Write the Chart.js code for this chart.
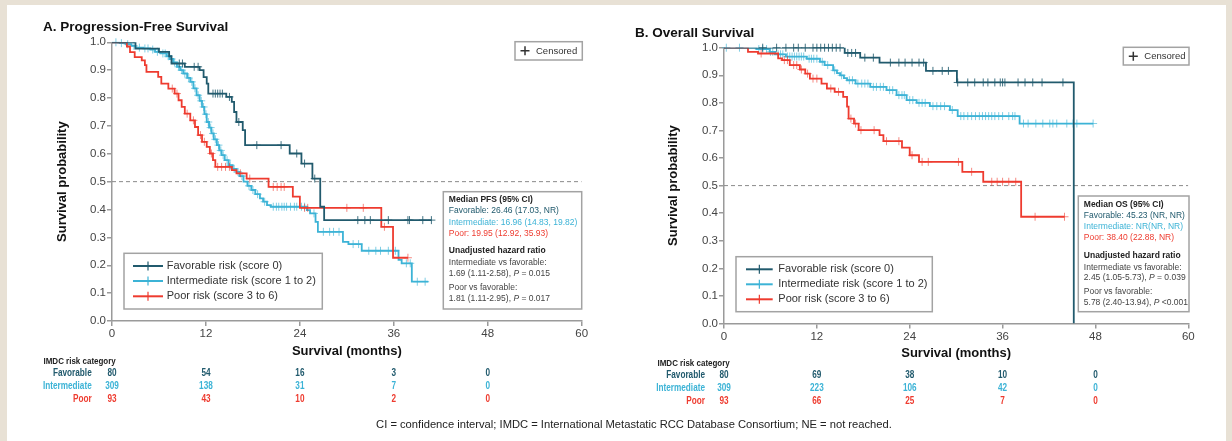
<!DOCTYPE html>
<html>
<head>
<meta charset="utf-8">
<script src="https://cdn.jsdelivr.net/npm/chart.js@4.4.1/dist/chart.umd.min.js"></script>
<style>
  html, body { margin: 0; padding: 0; }
  body { width: 1232px; height: 441px; background: #e8e1d5; position: relative; overflow: hidden;
         font-family: "Liberation Sans", Arial, sans-serif; }
  #panel { position: absolute; left: 7px; top: 5px; width: 1219px; height: 436px; background: #fff; }
  canvas { position: absolute; top: 0; }
  #cA { left: 0; }
  #cB { left: 616px; }
  #foot { position: absolute; left: 0; width: 1268px; top: 418px; text-align: center; font-size: 11.2px; color: #222; white-space: nowrap; }
</style>
</head>
<body>
<div id="panel"></div>
<canvas id="cA" width="616" height="441"></canvas>
<canvas id="cB" width="616" height="441"></canvas>
<div id="foot">CI = confidence interval; IMDC = International Metastatic RCC Database Consortium; NE = not reached.</div>
<script>
const FONT = '"Liberation Sans", Arial, Helvetica, sans-serif';

// axes
const xTicks = [0, 12, 24, 36, 48, 60];
const yTicks = [0.0, 0.1, 0.2, 0.3, 0.4, 0.5, 0.6, 0.7, 0.8, 0.9, 1.0];
const riskTimes = [0, 12, 24, 36, 48];
const groups = ["Favorable", "Intermediate", "Poor"];
const legendLabels = ["Favorable risk (score 0)", "Intermediate risk (score 1 to 2)", "Poor risk (score 3 to 6)"];
const colors = ["#215a6d", "#3cb3d6", "#ee3b2f"];
const censColors = ["rgba(33,90,109,0.85)", "rgba(60,179,214,0.65)", "rgba(238,59,47,0.6)"];

// A. progression-free survival (step times, survival after step, censor times)
const pfsFavT = [0, 3.0, 6.0, 7.3, 7.6, 9.3, 11.2, 11.7, 12.1, 12.3, 14.6, 15.3, 15.6, 15.9, 16.7, 17.0, 22.7, 24.2, 25.6, 26.6, 27.1, 40.8];
const pfsFavS = [1.0, 0.977, 0.966, 0.95, 0.924, 0.912, 0.9, 0.875, 0.852, 0.816, 0.804, 0.786, 0.75, 0.714, 0.685, 0.631, 0.601, 0.565, 0.511, 0.41, 0.362, 0.362];
const pfsFavCens = [8.6, 9.0, 10.5, 11.0, 12.9, 13.2, 13.5, 13.8, 14.1, 15.0, 16.2, 18.5, 21.6, 23.6, 24.6, 25.9, 31.4, 32.3, 33.0, 35.3, 37.8, 38.0, 39.7, 40.8];

const pfsIntT = [0, 1.0, 1.8, 2.5, 3.0, 4.0, 4.9, 5.5, 6.2, 7.0, 7.4, 7.8, 8.3, 8.7, 9.1, 9.6, 10.0, 10.4, 10.8, 11.2, 11.5, 11.8, 12.1, 12.4, 12.7, 13.0, 13.4, 13.7, 14.0, 14.4, 14.9, 15.4, 15.9, 16.3, 16.8, 17.3, 17.8, 18.3, 18.9, 19.3, 19.8, 20.3, 24.9, 25.3, 26.0, 26.3, 29.5, 30.2, 31.9, 36.6, 37.0, 38.3, 40.4];
const pfsIntS = [1.0, 0.997, 0.993, 0.987, 0.981, 0.978, 0.974, 0.966, 0.96, 0.95, 0.94, 0.928, 0.912, 0.9, 0.888, 0.872, 0.858, 0.835, 0.81, 0.79, 0.768, 0.742, 0.714, 0.694, 0.673, 0.652, 0.631, 0.612, 0.595, 0.577, 0.559, 0.546, 0.535, 0.52, 0.5, 0.485, 0.47, 0.455, 0.44, 0.428, 0.416, 0.41, 0.398, 0.386, 0.356, 0.32, 0.284, 0.276, 0.252, 0.219, 0.207, 0.141, 0.141];
const pfsIntCens = [0.5, 1.2, 2.0, 2.8, 3.5, 4.2, 4.6, 5.2, 5.8, 6.5, 6.8, 7.2, 7.6, 8.0, 8.5, 8.9, 9.3, 9.8, 10.2, 10.6, 11.0, 11.4, 11.7, 12.0, 12.3, 12.6, 12.9, 13.2, 13.6, 13.9, 14.2, 14.7, 15.1, 15.6, 16.1, 16.6, 17.5, 18.0, 18.6, 19.5, 20.6, 21.0, 21.3, 21.7, 22.0, 22.3, 22.8, 23.3, 23.6, 24.2, 24.6, 25.8, 27.0, 27.8, 28.3, 29.0, 30.8, 31.5, 32.8, 33.7, 34.3, 35.3, 36.2, 37.6, 38.1, 39.0, 40.0];

const pfsPoorT = [0, 1.9, 2.3, 2.9, 3.8, 4.2, 4.4, 5.9, 6.3, 7.2, 8.0, 8.5, 8.9, 9.3, 10.0, 10.6, 11.0, 11.5, 12.1, 12.5, 12.9, 13.2, 15.3, 15.9, 17.2, 20.0, 23.1, 24.0, 34.4, 35.9, 37.8];
const pfsPoorS = [1.0, 0.985, 0.965, 0.947, 0.935, 0.918, 0.894, 0.876, 0.852, 0.834, 0.816, 0.792, 0.768, 0.744, 0.72, 0.696, 0.667, 0.643, 0.625, 0.601, 0.577, 0.553, 0.541, 0.53, 0.511, 0.481, 0.446, 0.406, 0.338, 0.227, 0.227];
const pfsPoorCens = [7.7, 8.3, 9.6, 10.4, 11.3, 11.8, 12.7, 13.5, 14.0, 14.5, 15.0, 16.4, 17.6, 20.6, 21.1, 21.6, 22.0, 24.6, 25.0, 30.0, 32.1, 34.8, 37.8];

// B. overall survival
const osFavT = [0, 15.6, 17.6, 20.1, 26.1, 30.1, 45.2];
const osFavS = [1.0, 0.981, 0.964, 0.946, 0.916, 0.874, 0.0];
const osFavCens = [5.0, 6.8, 8.0, 9.0, 9.6, 10.5, 11.5, 12.0, 12.5, 13.0, 13.5, 14.0, 14.5, 15.0, 16.0, 16.5, 17.0, 18.2, 19.3, 21.5, 22.6, 23.4, 24.3, 25.2, 25.8, 27.0, 28.2, 29.0, 30.2, 31.5, 32.4, 33.5, 34.1, 35.0, 35.7, 36.0, 36.3, 38.0, 38.9, 39.9, 41.1, 43.8];

const osIntT = [0, 4.2, 5.9, 6.6, 8.0, 10.7, 12.4, 13.0, 14.1, 14.6, 15.0, 15.5, 15.9, 17.0, 18.9, 21.0, 22.3, 23.6, 24.9, 26.6, 29.2, 30.2, 38.2, 47.7];
const osIntS = [1.0, 0.995, 0.985, 0.976, 0.968, 0.96, 0.949, 0.937, 0.918, 0.908, 0.9, 0.89, 0.882, 0.87, 0.858, 0.846, 0.828, 0.81, 0.8, 0.788, 0.774, 0.752, 0.725, 0.725];
const osIntCens = [0.3, 2.0, 4.5, 5.0, 5.5, 6.0, 6.3, 7.0, 7.3, 7.6, 8.2, 8.5, 8.8, 9.1, 9.4, 9.7, 10.0, 10.3, 11.0, 11.3, 11.6, 12.0, 12.7, 13.4, 14.3, 15.2, 16.2, 16.6, 17.3, 17.8, 18.2, 18.6, 19.3, 19.7, 20.2, 20.6, 21.4, 21.8, 22.6, 23.0, 23.3, 24.0, 24.4, 25.2, 25.6, 26.0, 27.0, 27.5, 28.0, 28.5, 29.5, 30.6, 31.0, 31.5, 32.0, 32.5, 33.0, 33.4, 33.8, 34.2, 34.6, 35.0, 35.5, 36.0, 36.8, 37.3, 37.6, 38.7, 39.3, 40.3, 41.2, 42.1, 42.5, 43.0, 44.3, 45.1, 45.6, 47.7];

const osPoorT = [0, 3.1, 4.4, 7.0, 7.5, 8.5, 9.8, 10.5, 11.1, 12.6, 13.3, 14.3, 15.4, 15.9, 16.1, 16.8, 17.4, 20.1, 20.6, 23.0, 24.0, 25.2, 30.8, 33.5, 38.4, 44.0];
const osPoorS = [1.0, 0.985, 0.979, 0.961, 0.955, 0.937, 0.921, 0.906, 0.888, 0.87, 0.852, 0.84, 0.822, 0.786, 0.743, 0.725, 0.701, 0.683, 0.661, 0.638, 0.61, 0.586, 0.55, 0.514, 0.387, 0.387];
const osPoorCens = [4.8, 7.8, 8.2, 9.0, 9.4, 10.0, 10.8, 11.5, 12.0, 13.8, 14.8, 16.4, 17.0, 17.7, 19.4, 21.0, 22.6, 24.3, 25.6, 26.4, 30.3, 32.0, 34.6, 35.3, 36.0, 36.8, 37.7, 40.2, 44.0];

// numbers at risk
const pfsRiskFav = [80, 54, 16, 3, 0];
const pfsRiskInt = [309, 138, 31, 7, 0];
const pfsRiskPoor = [93, 43, 10, 2, 0];
const osRiskFav = [80, 69, 38, 10, 0];
const osRiskInt = [309, 223, 106, 42, 0];
const osRiskPoor = [93, 66, 25, 7, 0];

// text boxes
const pfsMedian = ["Favorable: 26.46 (17.03, NR)", "Intermediate: 16.96 (14.83, 19.82)", "Poor: 19.95 (12.92, 35.93)"];
const pfsHR = ["Intermediate vs favorable:", "1.69 (1.11-2.58), *P* = 0.015", "Poor vs favorable:", "1.81 (1.11-2.95), *P* = 0.017"];
const osMedian = ["Favorable: 45.23 (NR, NR)", "Intermediate: NR(NR, NR)", "Poor: 38.40 (22.88, NR)"];
const osHR = ["Intermediate vs favorable:", "2.45 (1.05-5.73), *P* = 0.039", "Poor vs favorable:", "5.78 (2.40-13.94), *P* <0.001"];

function stepAt(T, S, t) {
  let v = S[0];
  for (let i = 0; i < T.length; i++) if (T[i] <= t) v = S[i];
  return v;
}

function txt(ctx, s, x, y, font, color, align) {
  ctx.font = font;
  ctx.fillStyle = color;
  ctx.textAlign = align || "left";
  ctx.textBaseline = "middle";
  ctx.fillText(s, x, y);
}

function rich(ctx, s, x, y, size, color, bold) {
  let cx = x;
  s.split("*").forEach((p, i) => {
    ctx.font = (i % 2 ? "italic " : "") + (bold ? "bold " : "") + size + "px " + FONT;
    ctx.fillStyle = color;
    ctx.textAlign = "left";
    ctx.textBaseline = "middle";
    ctx.fillText(p, cx, y);
    cx += ctx.measureText(p).width;
  });
}

function narrow(ctx, s, x, y, size, color, align, sx) {
  ctx.save();
  ctx.translate(x, y);
  ctx.scale(sx, 1);
  txt(ctx, s, 0, 0, "bold " + size + "px " + FONT, color, align);
  ctx.restore();
}

function box(ctx, b) {
  ctx.save();
  ctx.strokeStyle = "#a3a3a3";
  ctx.lineWidth = 1.5;
  ctx.strokeRect(b[0], b[1], b[2], b[3]);
  ctx.restore();
}

function plus(ctx, x, y, h, w, color, lw) {
  ctx.save();
  ctx.strokeStyle = color;
  ctx.lineWidth = lw;
  ctx.beginPath();
  ctx.moveTo(x - w, y); ctx.lineTo(x + w, y);
  ctx.moveTo(x, y - h); ctx.lineTo(x, y + h);
  ctx.stroke();
  ctx.restore();
}

function extras(P) {
  return {
    id: "kmExtras",
    afterDraw(chart) {
      const ctx = chart.ctx;
      const a = chart.chartArea;
      const xs = chart.scales.x;
      txt(ctx, P.title, P.titleX, P.titleY, "bold 13.5px " + FONT, "#111");

      ctx.save();
      ctx.translate(P.yTitleX, (a.top + a.bottom) / 2);
      ctx.rotate(-Math.PI / 2);
      txt(ctx, "Survival probability", 0, 0, "bold 13px " + FONT, "#111", "center");
      ctx.restore();
      txt(ctx, "Survival (months)", (a.left + a.right) / 2, P.xTitleY, "bold 13px " + FONT, "#111", "center");

      // censored key
      const c = P.censBox;
      box(ctx, c);
      plus(ctx, c[0] + 10, c[1] + c[3] / 2, 4.5, 4.5, "#333", 1.5);
      txt(ctx, "Censored", c[0] + 21, c[1] + c[3] / 2 + 0.5, "9.5px " + FONT, "#333");

      // legend
      const l = P.legBox;
      box(ctx, l);
      legendLabels.forEach((s, i) => {
        const y = P.legRows[i];
        ctx.save();
        ctx.strokeStyle = colors[i];
        ctx.lineWidth = 2;
        ctx.beginPath();
        ctx.moveTo(P.legX0, y); ctx.lineTo(P.legX1, y);
        ctx.stroke();
        ctx.restore();
        plus(ctx, (P.legX0 + P.legX1) / 2, y, 4.5, 0, colors[i], 1.2);
        txt(ctx, s, P.legTextX, y, "11px " + FONT, "#333");
      });

      // median / hazard ratio box
      box(ctx, P.medBox);
      const ys = P.medRows;
      const tx = P.medBox[0] + 5.5;
      rich(ctx, P.medHead, tx, ys[0], 8.5, "#222", true);
      P.median.forEach((s, i) => rich(ctx, s, tx, ys[1 + i], 8.5, colors[i]));
      rich(ctx, "Unadjusted hazard ratio", tx, ys[4], 8.5, "#222", true);
      P.hr.forEach((s, i) => rich(ctx, s, tx, ys[5 + i], 8.5, "#444"));

      // numbers at risk
      narrow(ctx, "IMDC risk category", P.riskHeadX, P.riskHeadY, 9.5, "#222", "left", 0.84);
      P.risk.forEach((row, i) => {
        const y = P.riskRows[i];
        narrow(ctx, groups[i], P.riskLabelX, y, 10, colors[i], "right", 0.82);
        row.forEach((n, j) => {
          narrow(ctx, String(n), xs.getPixelForValue(riskTimes[j]), y, 10, colors[i], "center", 0.82);
        });
      });
    }
  };
}

function buildChart(id, P) {
  const ds = [];
  P.curves.forEach((c, k) => {
    ds.push({
      type: "line",
      data: c.T.map((t, i) => ({ x: t, y: c.S[i] })),
      stepped: true,
      borderColor: colors[c.g],
      borderWidth: 1.8,
      pointRadius: 0,
      fill: false
    });
    ds.push({
      type: "scatter",
      data: c.C.map(t => ({ x: t, y: stepAt(c.T, c.S, t) })),
      pointStyle: "cross",
      pointRadius: 4,
      borderColor: censColors[c.g],
      borderWidth: 1,
      clip: false
    });
  });
  ds.push({
    type: "line",
    data: [{ x: xTicks[0], y: 0.5 }, { x: xTicks[xTicks.length - 1], y: 0.5 }],
    borderColor: "#8a8a8a",
    borderDash: [4, 3],
    borderWidth: 1,
    pointRadius: 0
  });

  const axisGrid = { display: true, drawOnChartArea: false, drawTicks: true, tickLength: 5, color: "#9a9a9a", lineWidth: 1.5 };
  const axisBorder = { display: true, color: "#9a9a9a", width: 1.5 };
  const tickFont = { size: 11.5, family: FONT };

  return new Chart(document.getElementById(id), {
    data: { datasets: ds },
    options: {
      responsive: false,
      animation: false,
      devicePixelRatio: 1,
      layout: {
        padding: { left: P.area.left - 60, top: P.area.top, right: 616 - P.area.right, bottom: 441 - P.area.bottom - 30 }
      },
      scales: {
        x: {
          type: "linear", min: 0, max: 60,
          afterBuildTicks: s => { s.ticks = xTicks.map(v => ({ value: v })); },
          afterFit: s => { s.height = 30; },
          grid: axisGrid, border: axisBorder,
          ticks: { font: tickFont, color: "#444", padding: 1, maxRotation: 0, autoSkip: false }
        },
        y: {
          type: "linear", min: 0, max: 1,
          afterBuildTicks: s => { s.ticks = yTicks.map(v => ({ value: v })); },
          afterFit: s => { s.width = 60; },
          grid: axisGrid, border: axisBorder,
          ticks: { font: tickFont, color: "#444", padding: 1, autoSkip: false, callback: v => v.toFixed(1) }
        }
      },
      plugins: { legend: { display: false }, tooltip: { enabled: false } }
    },
    plugins: [extras(P)]
  });
}

buildChart("cA", {
  curves: [
    { g: 0, T: pfsFavT, S: pfsFavS, C: pfsFavCens },
    { g: 2, T: pfsPoorT, S: pfsPoorS, C: pfsPoorCens },
    { g: 1, T: pfsIntT, S: pfsIntS, C: pfsIntCens }
  ],
  area: { left: 112, top: 42.3, right: 581.7, bottom: 321 },
  title: "A. Progression-Free Survival", titleX: 43, titleY: 27,
  yTitleX: 62, xTitleY: 351.5,
  censBox: [515, 41.7, 67.3, 18.3],
  legBox: [124, 253.3, 198.3, 55.7], legRows: [266, 281, 296.3], legX0: 133, legX1: 163, legTextX: 166.7,
  medBox: [443.3, 191.7, 138.4, 117.3], medRows: [200, 211, 222.3, 233.3, 251, 262.3, 273.3, 287.7, 298.7],
  medHead: "Median PFS (95% CI)", median: pfsMedian, hr: pfsHR,
  risk: [pfsRiskFav, pfsRiskInt, pfsRiskPoor],
  riskHeadX: 43.5, riskHeadY: 361.7, riskLabelX: 91.7, riskRows: [373.3, 386.7, 399.3]
});

buildChart("cB", {
  curves: [
    { g: 0, T: osFavT, S: osFavS, C: osFavCens },
    { g: 2, T: osPoorT, S: osPoorS, C: osPoorCens },
    { g: 1, T: osIntT, S: osIntS, C: osIntCens }
  ],
  area: { left: 108, top: 47.7, right: 572.3, bottom: 323.5 },
  title: "B. Overall Survival", titleX: 19, titleY: 33,
  yTitleX: 57.3, xTitleY: 353.3,
  censBox: [507.3, 47.3, 65.7, 17.7],
  legBox: [120, 256.7, 196.3, 55], legRows: [269.3, 284.3, 299.3], legX0: 130, legX1: 156.7, legTextX: 162.3,
  medBox: [462.3, 196, 110.7, 115.7], medRows: [205, 216, 227, 237.7, 256, 267.3, 277.7, 292, 302.7],
  medHead: "Median OS (95% CI)", median: osMedian, hr: osHR,
  risk: [osRiskFav, osRiskInt, osRiskPoor],
  riskHeadX: 41.5, riskHeadY: 363.3, riskLabelX: 89, riskRows: [375, 388.3, 401]
});
</script>
</body>
</html>
